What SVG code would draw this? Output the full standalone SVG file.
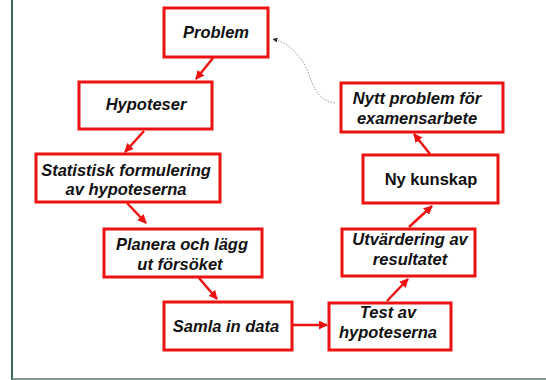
<svg xmlns="http://www.w3.org/2000/svg" width="546" height="380" viewBox="0 0 546 380">
<defs>
<style>
.box{fill:#fff;stroke:#ee1111;stroke-width:3}
.t{font-family:"Liberation Sans",Arial,sans-serif;font-weight:bold;font-style:italic;font-size:16.5px;fill:#111;text-anchor:middle}
.n{font-style:normal}
.c{stroke:#ee1111;stroke-width:2.5;fill:none;marker-end:url(#ah)}
.d{stroke:#999;stroke-width:1;stroke-dasharray:1.5 1.5;fill:none;marker-end:url(#dh)}
</style>
<marker id="ah" viewBox="0 0 10 10" refX="9" refY="5" markerWidth="3.6" markerHeight="3.6" orient="auto" markerUnits="strokeWidth">
<path d="M0,0 L10,5 L0,10 z" fill="#ee1111"/>
</marker>
<marker id="dh" viewBox="0 0 10 10" refX="9" refY="5" markerWidth="5" markerHeight="5" orient="auto" markerUnits="strokeWidth">
<path d="M0,0 L10,5 L0,10 z" fill="#222"/>
</marker>
</defs>
<rect x="0" y="0" width="546" height="380" fill="#fff"/>
<g id="frame">
<line x1="12" y1="0" x2="12" y2="380" stroke="#3d6b5a" stroke-width="2"/>
<line x1="11" y1="379" x2="546" y2="379" stroke="#5a7a6e" stroke-width="1.5"/>
</g>
<g id="connectors">
<line class="c" x1="213" y1="58" x2="196" y2="79"/>
<line class="c" x1="144" y1="131" x2="125" y2="152"/>
<line class="c" x1="127" y1="203" x2="146" y2="223"/>
<line class="c" x1="199" y1="278" x2="217" y2="299"/>
<line class="c" x1="292" y1="325" x2="327" y2="325"/>
<line class="c" x1="387" y1="301" x2="408" y2="279"/>
<line class="c" x1="409" y1="227" x2="432" y2="206"/>
<line class="c" x1="430" y1="154" x2="414" y2="134"/>
<path class="d" d="M335,103 C310,100 312,70 300,58 C292,48 285,42 273,39"/>
</g>
<g id="problem"><rect class="box" x="164" y="8" width="104" height="49"/><text class="t" x="216" y="38">Problem</text></g>
<g id="hypoteser"><rect class="box" x="79" y="82" width="133" height="47"/><text class="t" x="146" y="110">Hypoteser</text></g>
<g id="statistisk"><rect class="box" x="36" y="154" width="184" height="48"/><text class="t" x="126" y="176">Statistisk formulering</text><text class="t" x="126" y="195">av hypoteserna</text></g>
<g id="planera"><rect class="box" x="104" y="229" width="158" height="48"/><text class="t" x="182" y="250">Planera och lägg</text><text class="t" x="180" y="270">ut försöket</text></g>
<g id="samla"><rect class="box" x="164" y="302" width="128" height="48"/><text class="t" x="226" y="332">Samla in data</text></g>
<g id="test"><rect class="box" x="329" y="303" width="122" height="47"/><text class="t" x="388" y="318">Test av</text><text class="t" x="388" y="338">hypoteserna</text></g>
<g id="utvardering"><rect class="box" x="342" y="229" width="133" height="47"/><text class="t" x="410" y="245">Utvärdering av</text><text class="t" x="410" y="265">resultatet</text></g>
<g id="nykunskap"><rect class="box" x="363" y="155" width="135" height="48"/><text class="t n" x="431" y="185">Ny kunskap</text></g>
<g id="nytt"><rect class="box" x="341" y="83" width="162" height="49"/><text class="t" x="417" y="104">Nytt problem för</text><text class="t" x="417" y="124">examensarbete</text></g>
</svg>
